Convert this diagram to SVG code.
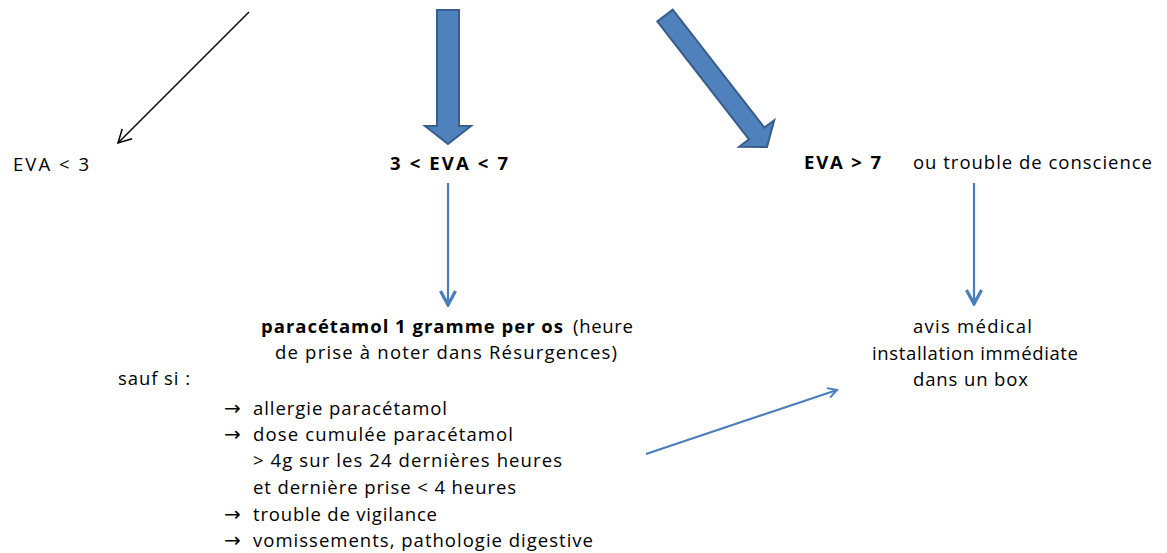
<svg xmlns="http://www.w3.org/2000/svg" width="1167" height="553" viewBox="0 0 1167 553">
  <style>
    text { font-family: "Open Sans", "Liberation Sans", sans-serif; font-size: 18.5px; fill: #000; }
    .b { font-weight: bold; }
    .arr { font-family: "DejaVu Sans", sans-serif; font-size: 20px; }
    .block { fill: #4F81BD; stroke: #385D8A; stroke-width: 2; stroke-linejoin: miter; }
    .thin { fill: none; stroke: #4A7EBB; stroke-width: 2.2; }
    .black { fill: none; stroke: #000; stroke-width: 1.5; }
  </style>
  <defs>
    <marker id="openBlue" viewBox="0 0 12 12" refX="10" refY="6" markerWidth="12" markerHeight="12" markerUnits="userSpaceOnUse" orient="auto">
      <path d="M1,1 L10,6 L1,11" fill="none" stroke="#4A7EBB" stroke-width="2"/>
    </marker>
    <marker id="openBlueV" viewBox="0 0 18 18" refX="16" refY="9" markerWidth="18" markerHeight="18" markerUnits="userSpaceOnUse" orient="auto">
      <path d="M2,1.5 L16,9 L2,16.5" fill="none" stroke="#4A7EBB" stroke-width="3.2"/>
    </marker>
    <marker id="openBlack" viewBox="0 0 16 16" refX="14" refY="8" markerWidth="16" markerHeight="16" markerUnits="userSpaceOnUse" orient="auto">
      <path d="M1,1 L14,8 L1,15" fill="none" stroke="#000" stroke-width="1.5"/>
    </marker>
  </defs>

  <!-- connectors -->
  <g id="connectors">
    <line class="black" x1="249" y1="12" x2="118" y2="143" marker-end="url(#openBlack)"/>
    <polygon class="block" points="437,10 459,10 459,126 471,126 448,144 425,126 437,126"/>
    <polygon class="block" points="672.7,9.6 764.4,127.6 774.2,120.2 767,147 739.2,146.8 749,139.4 657.3,21.4"/>
    <line class="thin" x1="448" y1="183" x2="448" y2="305" marker-end="url(#openBlueV)"/>
    <line class="thin" x1="974" y1="183" x2="974" y2="304" marker-end="url(#openBlueV)"/>
    <line class="thin" x1="646" y1="454" x2="837" y2="390" marker-end="url(#openBlue)"/>
  </g>

  <!-- pain score levels -->
  <g id="eva-low">
    <text x="13" y="171" textLength="76" lengthAdjust="spacing">EVA &lt; 3</text>
  </g>
  <g id="eva-mid">
    <text class="b" x="390" y="170" textLength="118" lengthAdjust="spacing">3 &lt; EVA &lt; 7</text>
  </g>
  <g id="eva-high">
    <text class="b" x="804" y="169" textLength="77" lengthAdjust="spacing">EVA &gt; 7</text>
    <text x="913" y="169" textLength="239" lengthAdjust="spacing">ou trouble de conscience</text>
  </g>

  <!-- paracetamol treatment -->
  <g id="paracetamol">
    <text class="b" x="261" y="333" textLength="302" lengthAdjust="spacing">paracétamol 1 gramme per os</text>
    <text x="573" y="333" textLength="60" lengthAdjust="spacing">(heure</text>
    <text x="275" y="359" textLength="342" lengthAdjust="spacing">de prise à noter dans Résurgences)</text>
  </g>

  <!-- contraindications -->
  <g id="sauf-si">
    <text x="118" y="385" textLength="72" lengthAdjust="spacing">sauf si :</text>
    <text class="arr" x="224" y="415">→</text>
    <text x="253" y="415" textLength="194" lengthAdjust="spacing">allergie paracétamol</text>
    <text class="arr" x="224" y="441">→</text>
    <text x="253" y="441" textLength="260" lengthAdjust="spacing">dose cumulée paracétamol</text>
    <text x="253" y="467" textLength="309" lengthAdjust="spacing">&gt; 4g sur les 24 dernières heures</text>
    <text x="253" y="494" textLength="263" lengthAdjust="spacing">et dernière prise &lt; 4 heures</text>
    <text class="arr" x="224" y="521">→</text>
    <text x="253" y="521" textLength="184" lengthAdjust="spacing">trouble de vigilance</text>
    <text class="arr" x="224" y="547">→</text>
    <text x="253" y="547" textLength="340" lengthAdjust="spacing">vomissements, pathologie digestive</text>
  </g>

  <!-- medical advice -->
  <g id="avis-medical">
    <text x="913" y="333" textLength="119" lengthAdjust="spacing">avis médical</text>
    <text x="872" y="360" textLength="206" lengthAdjust="spacing">installation immédiate</text>
    <text x="913" y="386" textLength="115" lengthAdjust="spacing">dans un box</text>
  </g>
</svg>
